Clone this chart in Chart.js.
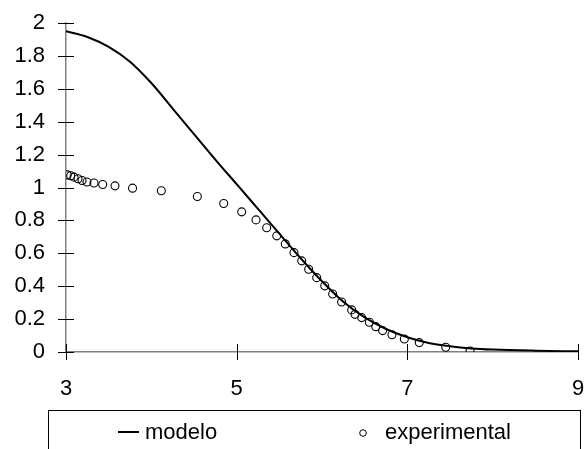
<!DOCTYPE html>
<html>
<head>
<meta charset="utf-8">
<script src="https://cdn.jsdelivr.net/npm/chart.js@4/dist/chart.umd.min.js"></script>
<style>
  html, body { margin: 0; padding: 0; background: #fff; }
  #wrap { width: 584px; height: 449px; }
</style>
</head>
<body>
<div id="wrap"><canvas id="myChart" width="584" height="449"></canvas></div>
<script>
// curve of the model
const modelX = [3.0, 3.25, 3.5, 3.75, 4.0, 4.25, 4.5, 4.75, 5.0, 5.25, 5.5, 5.75, 6.0, 6.25, 6.5, 6.75, 7.0, 7.25, 7.5, 7.75, 8.0, 8.5, 9.0]
const modelY = [1.95, 1.915, 1.855, 1.765, 1.635, 1.48, 1.325, 1.17, 1.02, 0.87, 0.72, 0.57, 0.43, 0.305, 0.21, 0.14, 0.09, 0.055, 0.035, 0.022, 0.015, 0.008, 0.004]

// measured points
const expX = [3.015, 3.055, 3.094, 3.141, 3.188, 3.246, 3.328, 3.43, 3.574, 3.78, 4.117, 4.539, 4.848, 5.059, 5.227, 5.352, 5.47, 5.57, 5.672, 5.762, 5.844, 5.938, 6.032, 6.125, 6.23, 6.348, 6.387, 6.465, 6.555, 6.63, 6.71, 6.82, 6.965, 7.14, 7.45, 7.735]
const expY = [1.077, 1.071, 1.063, 1.053, 1.043, 1.033, 1.027, 1.018, 1.01, 0.996, 0.98, 0.945, 0.903, 0.852, 0.803, 0.755, 0.706, 0.657, 0.604, 0.554, 0.503, 0.452, 0.402, 0.353, 0.304, 0.256, 0.229, 0.209, 0.181, 0.154, 0.13, 0.105, 0.079, 0.057, 0.029, 0.006]

const seriesNames = ['modelo', 'experimental']
const xTicks = [3, 5, 7, 9]

const FONT = 'Arial, "Liberation Sans", sans-serif'

const toPts = (xs, ys) => xs.map((x, i) => ({ x: x, y: ys[i] }))

// cross-shaped tick marks on both axes + boxed legend under the plot
const decor = {
  id: 'decor',
  afterDraw: chart => {
    let ctx = chart.ctx
    let xs = chart.scales.x
    let ys = chart.scales.y
    let area = chart.chartArea
    ctx.save()
    ctx.strokeStyle = '#000'
    ctx.lineWidth = 1
    ys.ticks.forEach(t => {
      const py = Math.round(ys.getPixelForValue(t.value)) + 0.5
      ctx.beginPath()
      ctx.moveTo(area.left - 8, py)
      ctx.lineTo(area.left + 8, py)
      ctx.stroke()
    })
    xs.ticks.forEach(t => {
      const px = Math.round(xs.getPixelForValue(t.value)) + 0.5
      ctx.beginPath()
      ctx.moveTo(px, area.bottom - 8)
      ctx.lineTo(px, area.bottom + 8)
      ctx.stroke()
    })

    // legend box
    ctx.strokeStyle = '#000'
    ctx.lineWidth = 1
    ctx.strokeRect(48.5, 410.5, 532, 60)

    ctx.font = '22px ' + FONT
    ctx.fillStyle = '#000'
    ctx.textBaseline = 'middle'
    ctx.textAlign = 'left'

    ctx.lineWidth = 2
    ctx.beginPath()
    ctx.moveTo(118, 432)
    ctx.lineTo(139, 432)
    ctx.stroke()
    ctx.fillText(chart.data.datasets[0].label, 145, 433)

    ctx.lineWidth = 1
    ctx.beginPath()
    ctx.arc(363, 433, 3.3, 0, Math.PI * 2)
    ctx.stroke()
    ctx.fillText(chart.data.datasets[1].label, 385, 433)
    ctx.restore()
  }
}

new Chart('myChart', {
  type: 'scatter',
  plugins: [decor],
  data: {
    datasets: [
      {
        label: seriesNames[0],
        data: toPts(modelX, modelY),
        showLine: true,
        borderColor: '#000',
        borderWidth: 2,
        pointRadius: 0,
        cubicInterpolationMode: 'monotone',
        fill: false,
        order: 2
      },
      {
        label: seriesNames[1],
        data: toPts(expX, expY),
        showLine: false,
        borderColor: '#000',
        backgroundColor: 'rgba(0,0,0,0)',
        borderWidth: 1.1,
        pointRadius: 4,
        order: 1
      }
    ]
  },
  options: {
    responsive: false,
    animation: false,
    layout: { padding: { top: 23, right: 6, left: 0, bottom: 0 } },
    plugins: {
      legend: { display: false },
      tooltip: { enabled: false }
    },
    scales: {
      x: {
        type: 'linear',
        min: 3,
        max: 9,
        afterBuildTicks: s => { s.ticks = xTicks.map(v => ({ value: v })) },
        afterFit: s => { s.height = 97; s.paddingLeft = 0; s.paddingRight = 0 },
        grid: { display: false, drawTicks: false },
        border: { display: true, color: '#808080', width: 1.5 },
        ticks: {
          padding: 24,
          color: '#000',
          font: { family: FONT, size: 22 },
          maxRotation: 0
        }
      },
      y: {
        min: 0,
        max: 2,
        afterFit: s => { s.width = 66; s.paddingTop = 0; s.paddingBottom = 0 },
        grid: { display: false, drawTicks: false },
        border: { display: true, color: '#808080', width: 1.5 },
        ticks: {
          stepSize: 0.2,
          padding: 21,
          color: '#000',
          font: { family: FONT, size: 22 },
          callback: v => String(Math.round(v * 10) / 10)
        }
      }
    }
  }
})
</script>
</body>
</html>
